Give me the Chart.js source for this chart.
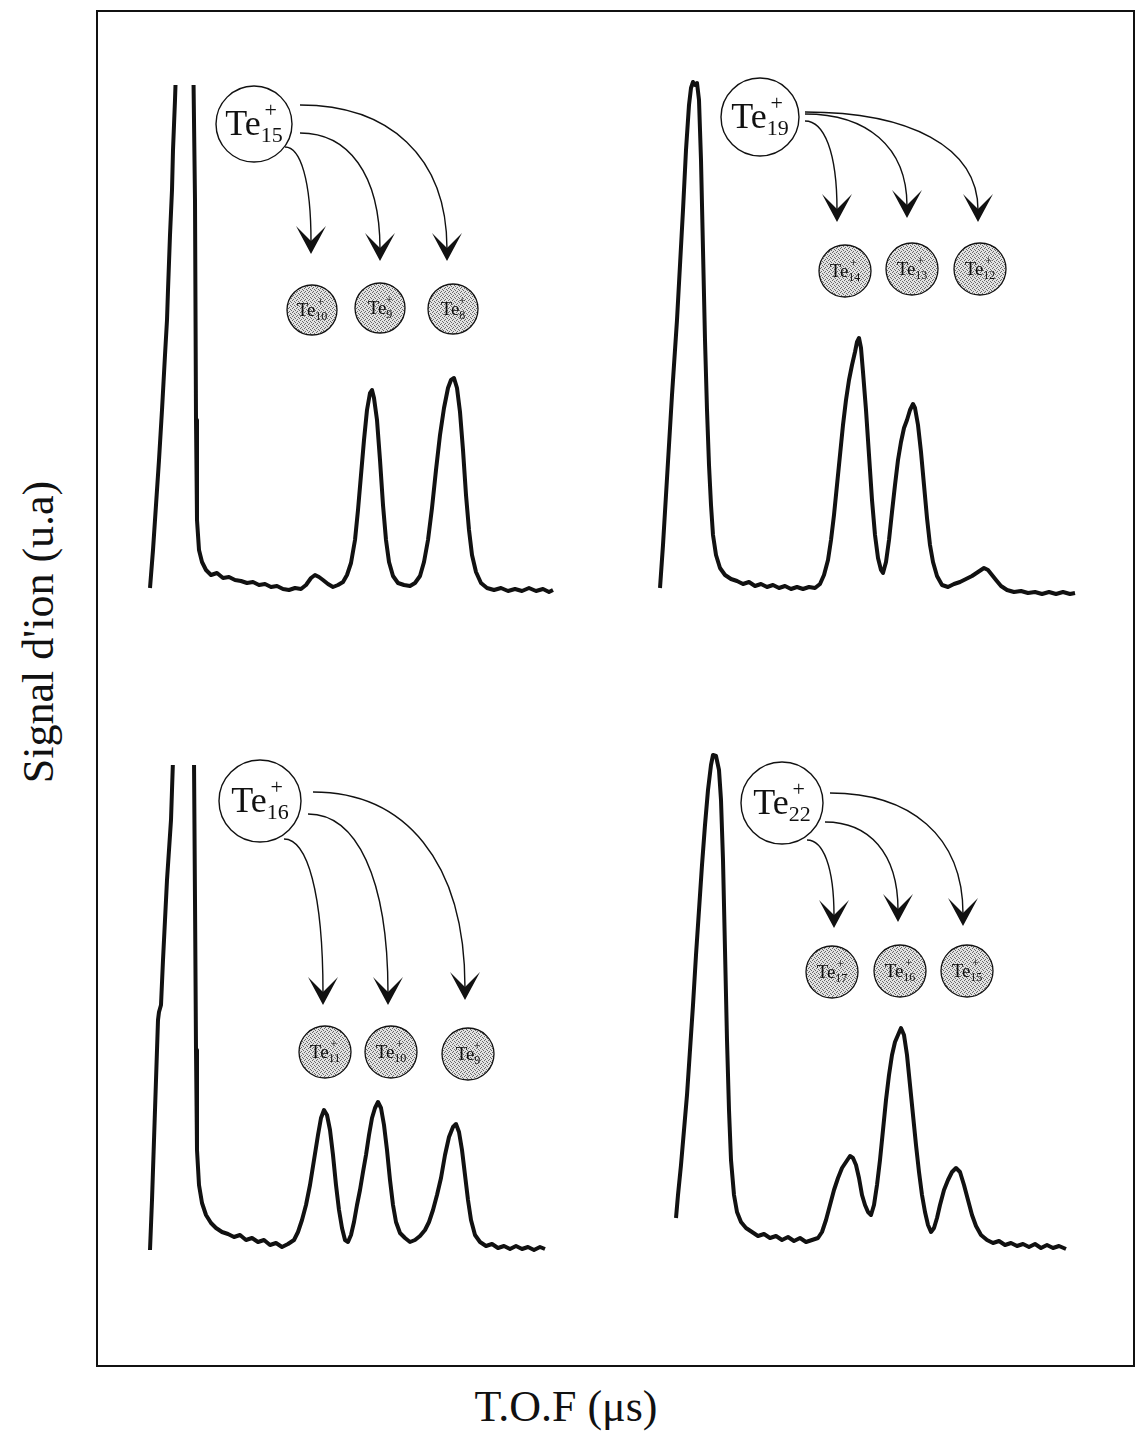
<!DOCTYPE html>
<html>
<head>
<meta charset="utf-8">
<script src="https://cdn.jsdelivr.net/npm/chart.js@4.4.1/dist/chart.umd.min.js"></script>
<style>
  body { margin: 0; background: #fff; }
  #page { position: relative; width: 1136px; height: 1439px; background: #fff; overflow: hidden; }
  #frame { position: absolute; left: 96px; top: 10px; width: 1035px; height: 1353px; border: 2px solid #111; }
  canvas { position: absolute; }
  .ylab { position: absolute; left: 38px; top: 632px; transform: translate(-50%, -50%) rotate(-90deg);
          font: 44px "Liberation Serif", "DejaVu Serif", serif; white-space: nowrap; color: #111; }
  .xlab { position: absolute; left: 566px; top: 1406px; transform: translate(-50%, -50%);
          font: 44px "Liberation Serif", "DejaVu Serif", serif; white-space: nowrap; color: #111; }
</style>
</head>
<body>
<div id="page">
  <div id="frame"></div>
  <canvas id="p1" width="430" height="540" style="left:140px;top:60px"></canvas>
  <canvas id="p2" width="450" height="540" style="left:640px;top:60px"></canvas>
  <canvas id="p3" width="430" height="520" style="left:140px;top:740px"></canvas>
  <canvas id="p4" width="430" height="520" style="left:660px;top:740px"></canvas>
  <div class="ylab">Signal d'ion (u.a)</div>
  <div class="xlab">T.O.F (μs)</div>
</div>
<script>
// TOF spectra, channel number vs. ion signal (arbitrary units)

// Te15+ parent
const chanTe15 = [10,13,16,19,22,25,27,28,30,32,33,35,37,45,53,55,56,57,59,62,66,71,77,83,89,95,101,107,113,119,125,131,137,143,149,155,161,166,171,175,179,183,188,193,198,203,207,211,215,218,221,224,227,230,232,234,237,240,243,246,249,253,258,264,270,275,280,284,288,292,296,300,304,308,311,314,317,320,323,326,329,332,336,341,347,354,361,368,375,382,389,396,403,409,413];
const sigTe15  = [12,50,95,140,190,245,280,310,365,410,450,500,560,900,560,400,180,80,50,38,30,25,27,22,23,20,19,17,18,15,16,13,14,11,10,12,11,15,22,25,23,20,16,13,15,18,25,37,60,90,125,160,190,207,210,202,180,140,95,60,38,24,17,15,14,17,24,38,60,92,130,165,192,212,220,222,212,188,150,105,70,45,28,17,12,10,12,9,11,9,12,9,11,8,10];

// Te19+ parent
const chanTe19 = [20,23,26,29,32,35,37,40,43,46,49,51,53,55,57,59,61,63,65,67,69,71,73,76,80,85,91,97,103,109,115,121,127,133,139,145,151,157,163,169,175,180,184,188,191,194,197,200,203,206,209,212,215,217,219,221,223,226,229,232,235,238,241,243,246,249,252,255,258,261,264,267,270,273,275,278,281,284,287,290,293,297,302,308,314,320,326,332,338,344,348,352,356,361,367,374,381,388,395,402,409,416,423,430,435];
const sigTe19  = [12,55,105,155,205,250,280,335,390,450,495,512,518,515,517,500,440,350,260,190,135,95,65,45,32,25,21,19,16,18,14,16,13,15,12,14,11,13,11,13,12,16,25,40,60,85,115,145,175,200,220,235,248,258,262,252,228,190,145,100,65,42,30,27,38,60,88,115,140,158,172,180,190,196,192,175,148,115,82,55,38,24,15,13,16,18,21,24,28,32,30,25,20,14,10,8,9,7,8,6,8,6,8,6,7];

// Te16+ parent
const chanTe16 = [10,12,14,16,18,19,21,23,25,27,29,31,32,33,44,54,55,56,57,59,62,66,71,76,82,88,94,100,106,112,118,124,130,136,142,148,154,158,162,166,170,174,178,181,184,187,190,193,196,199,202,205,208,211,214,217,220,223,226,229,232,235,238,241,244,247,250,253,256,260,265,270,275,280,285,289,293,297,301,305,309,313,316,319,322,325,328,331,335,340,346,352,358,364,370,376,382,388,394,400,405];
const sigTe16  = [10,60,120,180,240,248,255,300,340,380,410,440,470,500,860,500,360,210,110,75,57,45,37,32,28,26,23,25,20,22,18,20,15,17,13,16,20,28,40,55,75,100,125,142,150,145,130,105,75,50,32,20,18,25,38,55,70,88,105,125,142,152,158,152,135,110,80,55,38,27,22,18,20,24,30,38,50,65,82,105,123,133,136,128,110,85,60,40,25,18,14,16,12,14,11,14,11,13,10,13,11];

// Te22+ parent
const chanTe22 = [16,18,21,24,27,30,33,36,39,42,45,48,51,53,56,59,61,63,65,67,69,71,74,77,81,86,92,98,104,110,116,122,128,134,140,146,152,158,162,166,170,174,178,182,186,190,193,196,199,202,205,208,211,214,217,220,223,226,229,232,235,238,241,244,247,250,253,256,259,262,265,268,271,274,277,280,284,288,292,296,300,304,308,312,316,321,327,333,339,345,351,357,363,369,375,381,387,393,399,406];
const sigTe22  = [42,65,95,130,165,210,255,305,350,395,435,470,495,505,504,490,460,400,310,220,150,100,65,48,38,32,28,24,26,22,24,20,23,19,22,18,20,22,28,40,55,70,82,92,98,104,102,95,82,65,55,48,45,55,75,100,130,160,185,205,218,225,232,225,205,175,145,115,88,65,48,35,28,32,42,55,70,80,88,92,88,75,60,45,34,25,20,17,19,15,17,14,16,13,16,12,15,12,14,11];

const parents = ['15', '19', '16', '22'];
const fragments = [['10', '9', '8'], ['14', '13', '12'], ['11', '10', '9'], ['17', '16', '15']];

// where the decay sketch sits in each panel (in channel / signal units)
const sketches = [
  { big: [114, 476, 38], small: [[172, 290], [240, 292], [313, 291]], r: 25,
    tips: [[171, 346], [240, 339], [307, 339]], from: [[145, 453], [160, 467], [160, 495]] },
  { big: [120, 483, 39], small: [[205, 329], [272, 331], [340, 331]], r: 26,
    tips: [[197, 378], [267, 382], [338, 378]], from: [[165, 479], [165, 486], [165, 488]] },
  { big: [120, 459, 41], small: [[185, 208], [251, 208], [328, 206]], r: 26,
    tips: [[183, 255], [248, 255], [325, 260]], from: [[144, 421], [168, 446], [173, 468]] },
  { big: [122, 457, 41], small: [[172, 288], [240, 289], [307, 289]], r: 26,
    tips: [[174, 332], [238, 338], [303, 334]], from: [[147, 420], [165, 438], [170, 467]] }
];

const SERIF = '"Liberation Serif", "DejaVu Serif", serif';

function stipple(ctx) {
  const c = document.createElement('canvas');
  c.width = 4; c.height = 4;
  const g = c.getContext('2d');
  g.fillStyle = '#e2e2e2';
  g.fillRect(0, 0, 4, 4);
  g.fillStyle = '#6a6a6a';
  [[0, 0], [2, 1], [1, 3], [3, 2]].forEach(p => g.fillRect(p[0], p[1], 1, 1));
  return ctx.createPattern(c, 'repeat');
}

function ionLabel(ctx, x, y, n, size, bold) {
  let w = bold ? 'bold ' : '';
  let small = Math.round(size * 0.62);
  ctx.fillStyle = '#111';
  ctx.textBaseline = 'alphabetic';
  ctx.font = w + size + 'px ' + SERIF;
  let teW = ctx.measureText('Te').width;
  ctx.font = w + small + 'px ' + SERIF;
  let subW = ctx.measureText(n).width;
  let x0 = x - (teW + subW) / 2;
  ctx.font = w + size + 'px ' + SERIF;
  ctx.textAlign = 'left';
  ctx.fillText('Te', x0, y + size * 0.3);
  ctx.font = w + small + 'px ' + SERIF;
  ctx.fillText(n, x0 + teW, y + size * 0.5);
  ctx.textAlign = 'center';
  ctx.fillText('+', x0 + teW + subW * 0.45, y - size * 0.2);
}

const sketchPlugin = {
  id: 'sketch',
  afterDatasetsDraw(chart) {
    const k = chart.options.plugins.sketch.index;
    const s = sketches[k];
    const ctx = chart.ctx;
    const xs = chart.scales.x, ys = chart.scales.y;
    const px = v => xs.getPixelForValue(v), py = v => ys.getPixelForValue(v);
    ctx.save();
    // parent cluster
    ctx.beginPath();
    ctx.arc(px(s.big[0]), py(s.big[1]), s.big[2], 0, Math.PI * 2);
    ctx.fillStyle = '#fff';
    ctx.fill();
    ctx.lineWidth = 1.4;
    ctx.strokeStyle = '#111';
    ctx.stroke();
    ionLabel(ctx, px(s.big[0]), py(s.big[1]), parents[k], 36, false);
    // decay paths
    s.tips.forEach((t, i) => {
      const tx = px(t[0]), ty = py(t[1]);
      const sx = px(s.from[i][0]), sy = py(s.from[i][1]);
      const ey = ty - 12;
      ctx.beginPath();
      ctx.moveTo(sx, sy);
      ctx.bezierCurveTo(sx + (tx - sx) * 0.6, sy, tx, sy + (ey - sy) * 0.35, tx, ey);
      ctx.lineWidth = 1.4;
      ctx.stroke();
      ctx.beginPath();
      ctx.moveTo(tx, ty);
      ctx.lineTo(tx - 15, ty - 28);
      ctx.lineTo(tx, ty - 13);
      ctx.lineTo(tx + 15, ty - 28);
      ctx.closePath();
      ctx.fillStyle = '#111';
      ctx.fill();
    });
    // fragments
    const pat = stipple(ctx);
    s.small.forEach((c, i) => {
      ctx.beginPath();
      ctx.arc(px(c[0]), py(c[1]), s.r, 0, Math.PI * 2);
      ctx.fillStyle = pat;
      ctx.fill();
      ctx.lineWidth = 1.3;
      ctx.strokeStyle = '#111';
      ctx.stroke();
      ionLabel(ctx, px(c[0]), py(c[1]), fragments[k][i], 19, false);
    });
    ctx.restore();
  }
};

function makePanel(id, index, chan, sig, xMax, yMax, padTop) {
  const points = chan.map((c, i) => ({ x: c, y: sig[i] }));
  new Chart(document.getElementById(id), {
    type: 'line',
    data: {
      datasets: [{
        data: points,
        borderColor: '#111',
        borderWidth: 4,
        borderJoinStyle: 'round',
        pointRadius: 0,
        tension: 0,
        fill: false
      }]
    },
    options: {
      responsive: false,
      animation: false,
      events: [],
      layout: { padding: { top: padTop, left: 0, right: 0, bottom: 0 } },
      plugins: {
        legend: { display: false },
        tooltip: { enabled: false },
        sketch: { index: index }
      },
      scales: {
        x: { type: 'linear', display: false, min: 0, max: xMax },
        y: { type: 'linear', display: false, min: 0, max: yMax }
      }
    },
    plugins: [sketchPlugin]
  });
}

makePanel('p1', 0, chanTe15, sigTe15, 430, 515, 25);
makePanel('p2', 1, chanTe19, sigTe19, 450, 540, 0);
makePanel('p3', 2, chanTe16, sigTe16, 430, 495, 25);
makePanel('p4', 3, chanTe22, sigTe22, 430, 520, 0);
</script>
</body>
</html>
